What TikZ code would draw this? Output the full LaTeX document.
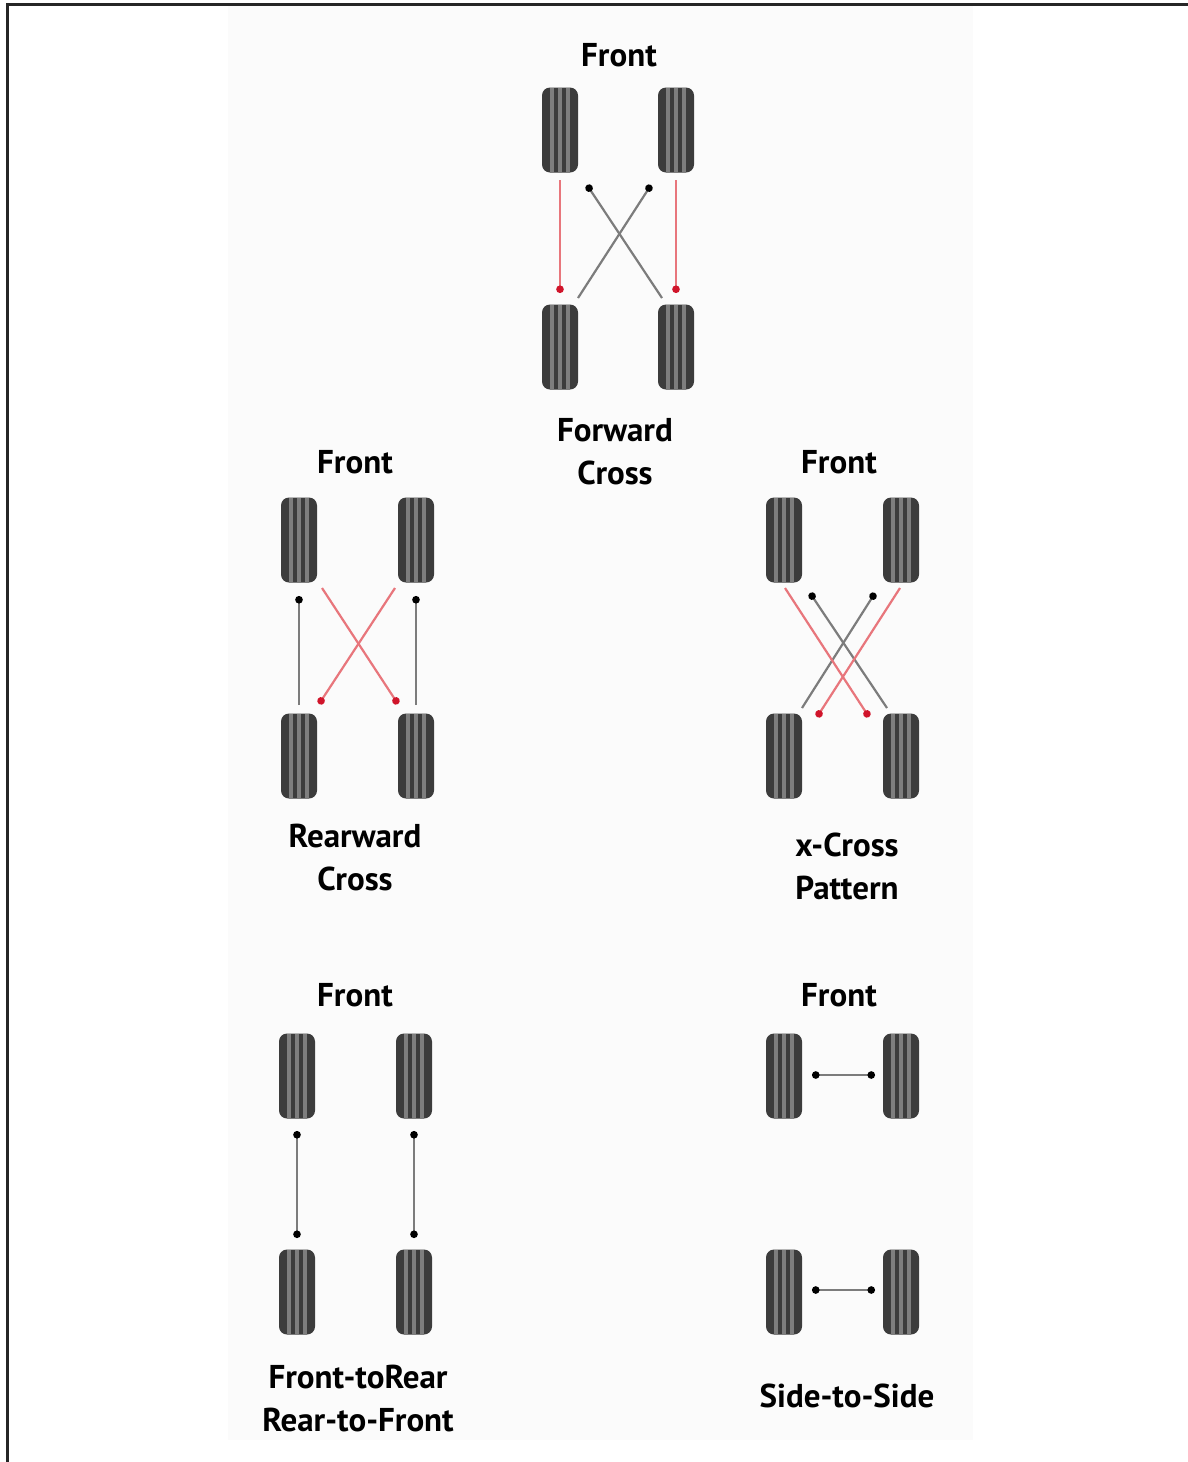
\documentclass[tikz,border=0pt]{standalone}
\usepackage{fontspec}
\setmainfont{PT Sans}
\usetikzlibrary{arrows.meta,calc}
\definecolor{tiredark}{HTML}{3C3C3C}
\definecolor{tirelight}{HTML}{7E7E7E}
\definecolor{lnred}{HTML}{E8767C}
\definecolor{tipred}{HTML}{D0142A}
\definecolor{lngray}{HTML}{7C7C7C}
\definecolor{panel}{HTML}{FBFBFB}
\begin{document}
\begin{tikzpicture}[x=1pt,y=-1pt,
  tire/.style={fill=tiredark, rounded corners=8pt, minimum width=36pt, minimum height=85pt, inner sep=0pt,
    path picture={
      \foreach \f in {0.28,0.5,0.72}{
        \draw[tirelight, line width=3.4pt]
          ($(path picture bounding box.south west)!\f!(path picture bounding box.south east)$) --
          ($(path picture bounding box.north west)!\f!(path picture bounding box.north east)$);
      }}},
  lbl/.style={font=\fontsize{33}{43}\selectfont\bfseries, align=center, inner sep=0pt},
  redarrow/.style={draw=lnred, line width=2.2pt, -{Circle[length=7.5pt, color=tipred]}},
  grayarrow/.style={draw=lngray, line width=2.2pt, -{Circle[length=7.5pt, color=black]}},
  grayboth/.style={draw=lngray, line width=2.2pt, {Circle[length=7.5pt, color=black]}-{Circle[length=7.5pt, color=black]}},
]
\useasboundingbox (0,0) rectangle (1188,1462);
\fill[white] (0,0) rectangle (1188,1462);
\fill[panel] (228,6) rectangle (973,1440);
\draw[line width=3pt, color=black!85] (7,1462) -- (7,4) -- (1188,4);

% Forward Cross
\node[lbl] (fcfront) at (619,55) {Front};
\node[tire] (fcTL) at (560,130) {};
\node[tire] (fcTR) at (676,130) {};
\node[tire] (fcBL) at (560,347) {};
\node[tire] (fcBR) at (676,347) {};
\node[lbl] (fclabel) at (615,452) {Forward\\Cross};
\coordinate (fca1) at (560,180); \coordinate (fca2) at (560,293);
\coordinate (fcb1) at (676,180); \coordinate (fcb2) at (676,293);
\coordinate (fcc1) at (578,298); \coordinate (fcc2) at (651,185);
\coordinate (fcd1) at (662,298); \coordinate (fcd2) at (587,185);
\draw[redarrow] (fca1) -- (fca2);
\draw[redarrow] (fcb1) -- (fcb2);
\draw[grayarrow] (fcc1) -- (fcc2);
\draw[grayarrow] (fcd1) -- (fcd2);

% Rearward Cross
\node[lbl] (rcfront) at (355,462) {Front};
\node[tire] (rcTL) at (299,540) {};
\node[tire] (rcTR) at (416,540) {};
\node[tire] (rcBL) at (299,756) {};
\node[tire] (rcBR) at (416,756) {};
\node[lbl] (rclabel) at (355,858) {Rearward\\Cross};
\coordinate (rca1) at (299,705); \coordinate (rca2) at (299,596);
\coordinate (rcb1) at (416,705); \coordinate (rcb2) at (416,596);
\coordinate (rcc1) at (322,588); \coordinate (rcc2) at (398,704);
\coordinate (rcd1) at (395,588); \coordinate (rcd2) at (319,704);
\draw[grayarrow] (rca1) -- (rca2);
\draw[grayarrow] (rcb1) -- (rcb2);
\draw[redarrow] (rcc1) -- (rcc2);
\draw[redarrow] (rcd1) -- (rcd2);

% X-Cross Pattern
\node[lbl] (xcfront) at (839,462) {Front};
\node[tire] (xcTL) at (784,540) {};
\node[tire] (xcTR) at (901,540) {};
\node[tire] (xcBL) at (784,756) {};
\node[tire] (xcBR) at (901,756) {};
\node[lbl] (xclabel) at (847,866) {x-Cross\\Pattern};
\coordinate (xca1) at (887,708); \coordinate (xca2) at (810,593);
\coordinate (xcb1) at (802,708); \coordinate (xcb2) at (875,593);
\coordinate (xcc1) at (785,588); \coordinate (xcc2) at (869,717);
\coordinate (xcd1) at (900,588); \coordinate (xcd2) at (817,717);
\draw[grayarrow] (xca1) -- (xca2);
\draw[grayarrow] (xcb1) -- (xcb2);
\draw[redarrow] (xcc1) -- (xcc2);
\draw[redarrow] (xcd1) -- (xcd2);

% Front-to-Rear
\node[lbl] (frfront) at (355,995) {Front};
\node[tire] (frTL) at (297,1076) {};
\node[tire] (frTR) at (414,1076) {};
\node[tire] (frBL) at (297,1292) {};
\node[tire] (frBR) at (414,1292) {};
\node[lbl] (frlabel) at (358,1398) {Front-toRear\\Rear-to-Front};
\coordinate (fra1) at (297,1131); \coordinate (fra2) at (297,1238);
\coordinate (frb1) at (414,1131); \coordinate (frb2) at (414,1238);
\draw[grayboth] (fra1) -- (fra2);
\draw[grayboth] (frb1) -- (frb2);

% Side-to-Side
\node[lbl] (ssfront) at (839,995) {Front};
\node[tire] (ssTL) at (784,1076) {};
\node[tire] (ssTR) at (901,1076) {};
\node[tire] (ssBL) at (784,1292) {};
\node[tire] (ssBR) at (901,1292) {};
\node[lbl] (sslabel) at (847,1396) {Side-to-Side};
\coordinate (ssa1) at (812,1075); \coordinate (ssa2) at (875,1075);
\coordinate (ssb1) at (812,1290); \coordinate (ssb2) at (875,1290);
\draw[grayboth] (ssa1) -- (ssa2);
\draw[grayboth] (ssb1) -- (ssb2);
\end{tikzpicture}
\end{document}
